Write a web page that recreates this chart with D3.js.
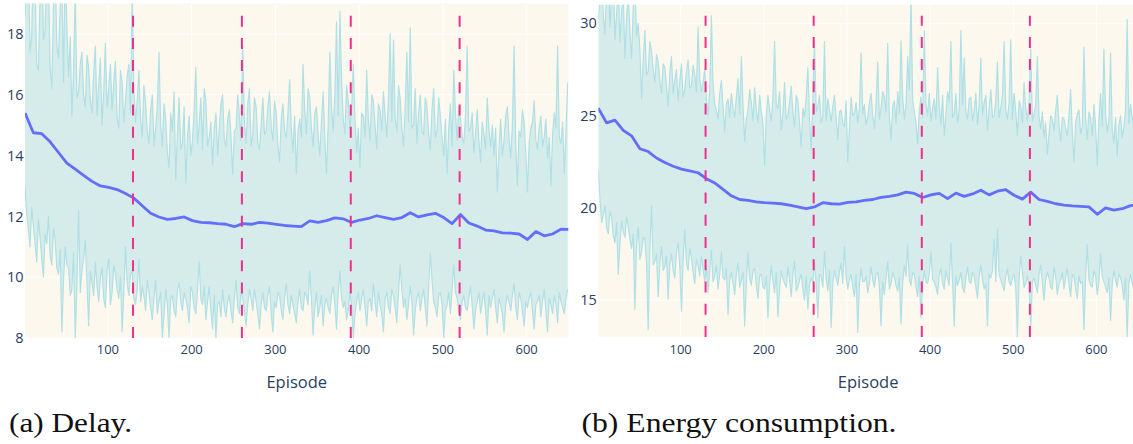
<!DOCTYPE html>
<html><head><meta charset="utf-8">
<script src="https://cdn.jsdelivr.net/npm/d3@7"></script>
<style>body{margin:0;background:#fff;overflow:hidden} svg{display:block}
.cap{font-family:"Liberation Serif","Tinos","Noto Serif","DejaVu Serif","FreeSerif","Nimbus Roman","Times New Roman",Times,serif;}
.sans{font-family:"Open Sans","Noto Sans",sans-serif;}</style>
</head><body>
<svg id="chart" width="1133" height="444"></svg>
<script>
// ---------------- data ----------------
const episodes = d3.range(1, 651, 2);                       // band sample episodes (325)
const meanEpisodes = d3.range(1, 651, 10).concat([650]);     // mean sample episodes (66)

const delayMax = [
18.6,19.8,20.4,17.4,17.9,20.6,19.6,17.0,16.8,19.3,21.2,17.8,18.1,20.2,19.9,16.9,16.2,19.0,20.3,17.6,
17.2,18.9,19.8,16.4,20.5,18.2,16.6,17.9,15.3,16.8,19.4,15.9,16.1,17.0,17.4,16.0,15.6,17.3,16.9,15.8,
15.4,16.7,17.6,15.3,16.3,17.2,15.0,16.1,17.7,15.6,16.2,17.0,15.5,16.4,17.1,15.2,14.9,16.8,16.4,15.1,
15.8,16.6,17.0,15.4,19.4,16.2,15.1,15.8,16.8,15.2,14.6,16.3,15.7,14.8,14.4,15.5,16.0,14.3,14.9,15.6,
17.4,15.0,14.3,15.7,15.2,14.1,13.6,15.4,14.8,16.1,13.2,14.7,15.9,14.2,14.4,15.6,13.1,14.6,15.3,14.0,
14.5,15.5,16.9,14.4,15.0,15.9,14.2,16.2,15.8,14.3,14.6,15.1,13.7,14.9,15.4,14.0,14.9,15.7,16.0,14.5,
14.3,15.2,15.5,14.6,13.4,14.8,14.9,16.0,15.3,14.5,17.6,15.1,14.4,15.7,16.2,14.3,14.7,15.9,15.6,14.4,
14.2,15.0,15.9,14.7,14.8,15.6,16.1,14.9,14.5,15.8,15.4,14.3,13.8,15.2,15.7,14.8,14.6,15.4,16.5,14.9,
14.1,15.3,13.4,14.8,15.2,14.6,17.0,15.5,14.7,16.2,15.9,14.9,14.3,15.4,15.6,14.7,14.0,15.1,16.1,14.6,
13.4,15.0,17.4,15.6,14.8,16.0,18.4,15.3,18.75,16.5,15.2,14.7,16.3,15.8,14.9,15.5,17.0,15.2,14.1,14.9,
13.6,15.4,15.3,14.6,16.8,15.2,14.5,16.0,15.8,15.0,14.2,15.7,15.5,14.8,16.1,15.3,14.6,15.9,18.0,15.1,
17.8,15.2,14.8,16.3,15.9,14.9,14.3,15.6,17.4,15.1,18.2,14.9,15.0,16.2,14.4,15.4,16.0,14.8,14.7,15.9,
15.6,14.7,14.2,15.5,16.2,14.6,14.8,15.9,15.3,14.6,14.0,15.2,13.4,14.9,15.7,14.3,16.8,15.4,14.5,15.6,
15.2,14.6,14.4,15.3,17.6,14.8,14.9,15.4,14.1,14.7,15.5,14.5,13.8,15.1,14.7,14.2,15.9,14.8,14.3,15.0,
14.0,14.9,12.8,14.2,15.2,14.0,14.5,15.3,15.6,14.6,13.9,15.0,17.6,14.4,13.0,14.8,14.6,15.5,15.1,14.1,
12.8,14.4,14.9,15.1,15.8,14.5,14.2,14.9,15.3,14.3,14.6,15.2,13.9,14.6,13.0,14.7,15.4,14.9,17.6,14.6,
14.4,15.1,13.4,14.8,16.4];
const delayMin = [
13.0,12.1,11.6,11.0,12.3,11.7,11.1,10.5,11.9,11.3,10.6,10.0,11.4,11.1,12.0,10.7,10.4,11.6,11.2,10.3,
10.1,10.9,8.2,9.9,11.0,10.4,10.3,9.4,9.6,10.8,8.0,9.7,12.2,9.5,10.2,10.6,11.2,9.8,8.4,10.2,
9.8,9.4,10.5,9.7,9.2,10.0,10.3,9.3,9.0,10.2,10.6,9.1,9.5,10.4,10.1,9.6,9.3,10.0,8.2,9.5,
11.0,9.8,9.4,10.1,10.2,9.3,9.1,9.6,10.6,9.2,9.7,9.4,8.9,9.9,9.5,9.0,8.6,9.3,9.9,8.8,
9.2,9.5,8.0,8.8,9.6,9.1,8.0,9.3,9.4,8.9,8.7,9.6,9.8,9.2,8.9,9.5,9.3,9.0,8.5,9.7,
9.5,9.0,8.8,9.6,10.5,9.3,9.1,9.7,8.6,9.2,9.7,8.9,8.3,9.4,8.0,9.1,9.2,8.7,9.6,9.0,
8.7,9.2,9.4,8.9,8.5,9.3,9.9,9.0,8.8,9.5,9.3,8.9,8.4,9.1,9.6,9.3,8.9,9.6,9.2,8.8,
8.3,9.1,9.5,9.0,8.9,9.4,9.7,8.8,8.2,9.2,9.0,9.5,9.4,8.9,8.6,9.3,9.8,9.1,8.8,9.4,
9.1,8.8,8.5,9.2,9.6,9.0,8.9,9.5,9.4,9.1,10.2,9.3,8.1,9.0,9.5,8.7,9.0,9.4,8.4,9.1,
9.3,9.0,8.8,9.4,9.7,9.1,8.3,9.5,10.2,9.3,9.0,9.2,8.6,8.9,9.5,9.1,8.0,8.8,9.2,9.5,
8.9,9.3,9.6,9.0,8.4,9.2,9.3,8.9,9.8,9.2,8.7,9.5,9.1,8.8,8.2,9.3,9.5,9.0,8.8,9.6,
9.4,9.0,8.5,9.5,10.4,9.6,9.0,9.3,8.6,9.1,9.7,9.2,8.1,8.9,9.3,9.5,8.9,9.3,9.6,9.0,
8.4,9.7,10.8,9.9,9.2,9.0,8.7,9.4,9.5,9.1,8.0,8.9,9.1,9.5,8.8,9.6,10.4,9.5,9.3,8.9,
8.6,9.2,9.4,9.0,8.9,9.3,9.7,9.1,8.3,8.9,9.2,9.5,8.8,9.2,9.5,8.9,8.1,9.4,9.0,9.3,
9.6,9.0,8.5,9.3,9.1,8.8,8.2,9.1,9.4,9.2,8.9,9.4,9.8,9.0,8.6,9.5,9.3,8.9,8.4,9.2,
9.0,9.3,9.5,8.9,8.3,9.1,9.2,9.4,8.7,9.2,9.6,8.9,8.2,9.3,9.1,8.8,9.4,9.1,8.5,9.5,
9.2,9.0,8.8,9.3,9.6];
const delayMean = [
15.4,14.75,14.72,14.45,14.1,13.75,13.55,13.35,13.15,13.0,
12.95,12.88,12.75,12.6,12.35,12.1,11.98,11.9,11.93,11.98,
11.86,11.8,11.79,11.76,11.74,11.66,11.76,11.74,11.8,11.78,
11.74,11.7,11.68,11.66,11.85,11.8,11.86,11.95,11.92,11.8,
11.88,11.93,12.02,11.96,11.9,11.96,12.12,11.98,12.05,12.1,
11.96,11.76,12.06,11.78,11.68,11.55,11.52,11.46,11.45,11.42,
11.24,11.5,11.36,11.42,11.58,11.57];

const energyMax = [
30.2,31.2,32.5,30.4,29.4,31.9,33.0,29.8,31.5,32.8,29.1,30.5,32.2,29.0,30.6,31.6,28.1,30.3,31.8,29.5,
28.1,30.8,32.4,29.3,30.0,28.6,25.9,28.0,29.6,27.2,27.4,29.0,28.5,27.5,26.8,28.3,27.9,26.9,26.2,27.8,
27.6,26.6,25.5,27.3,28.2,26.2,26.9,27.5,25.8,26.9,27.8,26.0,26.4,27.4,28.0,26.5,26.6,27.7,27.2,26.3,
29.8,27.0,26.3,26.8,27.5,25.9,25.0,26.4,30.4,26.7,25.6,25.3,24.8,26.2,26.9,25.5,24.1,25.6,25.9,24.9,
26.2,25.4,24.9,26.0,27.0,25.1,28.2,25.6,23.6,24.8,25.3,26.4,25.7,24.7,26.5,25.3,24.6,26.1,25.2,24.6,
22.3,25.0,26.1,25.3,24.7,26.0,29.0,25.6,25.4,26.3,24.2,25.1,26.8,24.8,25.0,25.7,26.6,25.2,24.4,26.1,
25.8,24.6,23.3,25.4,24.9,26.0,27.6,24.8,23.1,25.9,29.0,25.2,25.5,26.1,24.6,25.0,29.0,24.7,25.9,25.3,
24.7,25.5,26.1,24.9,23.7,25.2,25.3,24.6,24.4,25.8,22.5,24.3,26.0,25.0,25.1,25.7,24.6,25.4,28.4,25.1,
25.6,24.5,24.9,25.7,26.2,25.0,24.3,25.6,27.9,24.8,25.4,26.3,26.0,25.2,28.9,24.9,23.7,25.5,25.8,24.6,
26.3,25.1,29.05,26.0,24.8,25.5,28.2,26.4,31.5,25.8,25.2,24.6,23.45,25.3,26.0,24.9,29.6,25.6,25.0,26.2,
24.7,25.4,25.9,24.8,27.6,25.5,24.5,26.1,23.9,25.0,26.3,25.7,29.0,24.9,25.1,26.2,24.6,25.3,29.6,25.6,
28.1,25.2,24.8,25.9,26.0,24.7,25.3,26.2,24.5,25.6,28.1,25.0,25.7,26.1,24.2,25.4,26.4,24.9,25.0,25.8,
27.9,24.9,25.4,26.1,29.0,25.3,24.8,25.7,29.1,24.8,26.2,25.2,23.9,25.8,25.5,24.6,26.8,25.4,24.7,25.9,
28.6,24.7,25.1,25.6,28.2,24.9,24.3,25.2,23.8,24.6,22.9,24.0,25.0,24.8,24.2,25.3,26.1,24.5,23.6,24.9,
24.8,24.3,23.9,25.0,26.4,24.1,22.5,24.6,25.1,25.3,24.0,24.4,28.7,24.9,23.7,25.2,24.9,23.9,25.6,24.5,
22.3,24.8,26.2,24.4,28.6,25.1,24.1,24.7,28.4,24.2,23.5,24.9,22.8,24.5,25.0,23.8,24.4,25.3,30.2,24.6,
25.6,24.9,24.3,25.2,26.8];
const energyMin = [
22.0,20.5,19.2,19.6,20.1,18.9,18.6,19.8,19.5,18.5,18.1,19.2,16.4,18.0,19.3,18.7,18.4,19.5,19.0,18.3,
17.8,18.6,14.5,17.9,18.95,17.2,17.6,18.4,18.3,17.0,13.4,17.8,20.1,16.9,17.1,17.5,15.2,17.0,17.9,16.6,
16.8,17.4,15.05,16.9,17.5,16.6,16.2,17.6,18.1,16.8,14.4,17.1,18.85,17.0,16.6,17.8,17.3,16.5,15.9,17.2,
16.9,16.3,17.4,16.7,16.0,16.8,15.4,16.6,17.7,16.0,16.3,16.9,15.6,16.4,17.6,16.2,16.1,16.7,14.2,16.1,
16.5,15.9,15.3,16.4,17.0,15.7,16.1,16.5,13.6,15.9,17.6,16.2,15.8,16.6,16.7,15.8,15.1,16.3,16.4,15.7,
15.6,16.3,14.05,15.8,16.9,16.0,15.4,16.5,14.1,15.6,16.6,16.2,15.9,15.7,16.8,16.1,15.2,16.4,17.1,15.5,
15.7,16.1,16.4,15.6,15.0,16.3,14.5,15.8,16.2,16.0,17.0,15.9,14.05,16.4,16.3,15.7,17.66,16.2,15.5,16.6,
13.5,15.9,16.6,16.2,15.8,16.5,17.0,15.9,17.9,16.3,15.6,16.1,16.4,15.7,15.2,16.4,13.25,15.8,16.7,16.0,
16.0,16.3,15.4,15.9,16.8,16.1,15.7,16.4,16.5,15.8,13.6,16.0,15.3,16.2,17.1,15.6,15.9,16.5,16.2,15.8,
15.5,16.2,13.7,15.9,16.9,16.3,18.0,16.1,15.8,16.5,16.4,15.7,15.2,16.3,14.05,15.8,16.6,16.0,15.9,16.4,
17.6,16.1,16.0,15.7,15.3,16.4,16.7,15.9,15.6,16.6,16.2,15.8,18.1,16.0,13.6,16.3,15.8,16.1,16.5,15.7,
15.4,16.2,16.8,16.0,15.9,16.5,16.3,15.7,15.1,16.3,16.9,16.1,15.6,15.9,13.6,16.4,16.2,16.6,18.3,16.0,
18.85,16.4,16.1,15.8,15.5,16.3,16.7,16.0,15.8,16.2,16.4,15.7,13.0,16.1,17.4,16.5,15.7,15.9,16.3,15.8,
13.5,16.0,16.2,15.8,15.4,16.4,16.9,15.9,15.0,16.1,16.5,16.2,15.7,15.6,16.8,16.3,15.3,15.9,16.1,16.5,
15.6,16.2,16.7,15.9,15.2,16.4,16.3,15.6,15.1,16.3,15.9,16.0,13.4,16.2,18.0,16.1,15.8,15.7,16.6,16.3,
15.3,16.0,17.5,16.3,16.0,15.7,15.4,16.2,13.9,15.9,16.6,16.1,15.7,16.4,16.2,15.8,15.0,16.2,13.0,15.9,
16.4,16.0,15.5,16.2,16.9];
const energyMean = [
25.4,24.6,24.75,24.2,23.9,23.2,23.05,22.7,22.45,22.25,
22.1,22.0,21.9,21.58,21.35,21.0,20.65,20.45,20.4,20.32,
20.28,20.25,20.22,20.15,20.05,19.95,20.05,20.28,20.22,20.2,
20.3,20.32,20.4,20.45,20.56,20.62,20.7,20.85,20.78,20.56,
20.7,20.78,20.5,20.8,20.62,20.75,20.95,20.7,20.9,20.98,
20.68,20.47,20.85,20.45,20.35,20.22,20.15,20.1,20.08,20.05,
19.65,20.0,19.88,19.95,20.12,20.15];

const xTicks = [100,200,300,400,500,600];
const delayTicks = [8,10,12,14,16,18];
const energyTicks = [15,20,25,30];
const phaseMarks = [130,260,390,520];
const xTitle = "Episode";
const captions = ["(a) Delay.", "(b) Energy consumption."];

// ---------------- drawing ----------------
const svg = d3.select("#chart");
const C = {
  bg: "#fdf8ed", fill: "#d6ecea", band: "#b0e0e6", mean: "#636efa",
  vline: "#ef2f8c", grid: "#ffffff", tick: "#2a3f5f"
};

const panels = [
  {id:"a", max:delayMax, min:delayMin, mean:delayMean, ticks:delayTicks,
   yDom:[8,19], xr:[25,568.5], yr:[338,3.5], caption:captions[0], capX:9, capW:123},
  {id:"b", max:energyMax, min:energyMin, mean:energyMean, ticks:energyTicks,
   yDom:[13,31], xr:[598.3,1138], yr:[337,4.8], caption:captions[1], capX:581.5, capW:315}
];

panels.forEach(p => {
  const x = d3.scaleLinear().domain([1,650]).range(p.xr);
  const y = d3.scaleLinear().domain(p.yDom).range(p.yr);
  const g = svg.append("g");
  const [L,R] = p.xr, [B,T] = p.yr;

  g.append("clipPath").attr("id","clip"+p.id)
    .append("rect").attr("x",L).attr("y",T).attr("width",R-L).attr("height",B-T);

  g.append("rect").attr("x",L).attr("y",T).attr("width",R-L).attr("height",B-T).attr("fill",C.bg);

  g.selectAll(".hg").data(p.ticks).join("line")
    .attr("x1",L).attr("x2",R).attr("y1",d=>y(d)).attr("y2",d=>y(d))
    .attr("stroke",C.grid).attr("stroke-width",1);
  g.selectAll(".vg").data(xTicks).join("line")
    .attr("y1",T).attr("y2",B).attr("x1",d=>x(d)).attr("x2",d=>x(d))
    .attr("stroke",C.grid).attr("stroke-width",1);

  const plot = g.append("g").attr("clip-path",`url(#clip${p.id})`);
  const rows = episodes.map((e,i)=>({e, hi:p.max[i], lo:p.min[i]}));

  plot.append("path").datum(rows)
    .attr("d", d3.area().x(d=>x(d.e)).y0(d=>y(d.lo)).y1(d=>y(d.hi)))
    .attr("fill", C.fill);

  ["lo","hi"].forEach(k => {
    plot.append("path").datum(rows)
      .attr("d", d3.line().x(d=>x(d.e)).y(d=>y(d[k])))
      .attr("fill","none").attr("stroke",C.band).attr("stroke-width",1.2)
      .attr("stroke-linejoin","round");
  });

  plot.append("path").datum(meanEpisodes.map((e,i)=>({e, v:p.mean[i]})))
    .attr("d", d3.line().x(d=>x(d.e)).y(d=>y(d.v)))
    .attr("fill","none").attr("stroke",C.mean).attr("stroke-width",2.8)
    .attr("stroke-linejoin","round");

  const topY = B - 0.967*(B-T);
  plot.selectAll(".vm").data(phaseMarks).join("line")
    .attr("x1",d=>x(d)).attr("x2",d=>x(d)).attr("y1",B).attr("y2",topY)
    .attr("stroke",C.vline).attr("stroke-width",2).attr("stroke-dasharray","11,11.24");

  g.selectAll(".yt").data(p.ticks).join("text").attr("class","sans")
    .attr("x",L-1.5).attr("y",d=>y(d)).attr("dy","0.36em")
    .attr("text-anchor","end").attr("font-size",14.5).attr("fill",C.tick).text(d=>d);
  g.selectAll(".xt").data(xTicks).join("text").attr("class","sans")
    .attr("x",d=>x(d)).attr("y",354)
    .attr("text-anchor","middle").attr("font-size",13).attr("fill",C.tick).text(d=>d);

  g.append("text").attr("class","sans").attr("x",(L+R)/2).attr("y",387.5).attr("text-anchor","middle")
    .attr("font-size",16.5).attr("fill",C.tick).text(xTitle);

  g.append("text").attr("class","cap").attr("x",p.capX).attr("y",431.5)
    .attr("font-size",27.5)
    .attr("textLength",p.capW).attr("lengthAdjust","spacingAndGlyphs")
    .attr("fill","#111").text(p.caption);
});
</script>
</body></html>
